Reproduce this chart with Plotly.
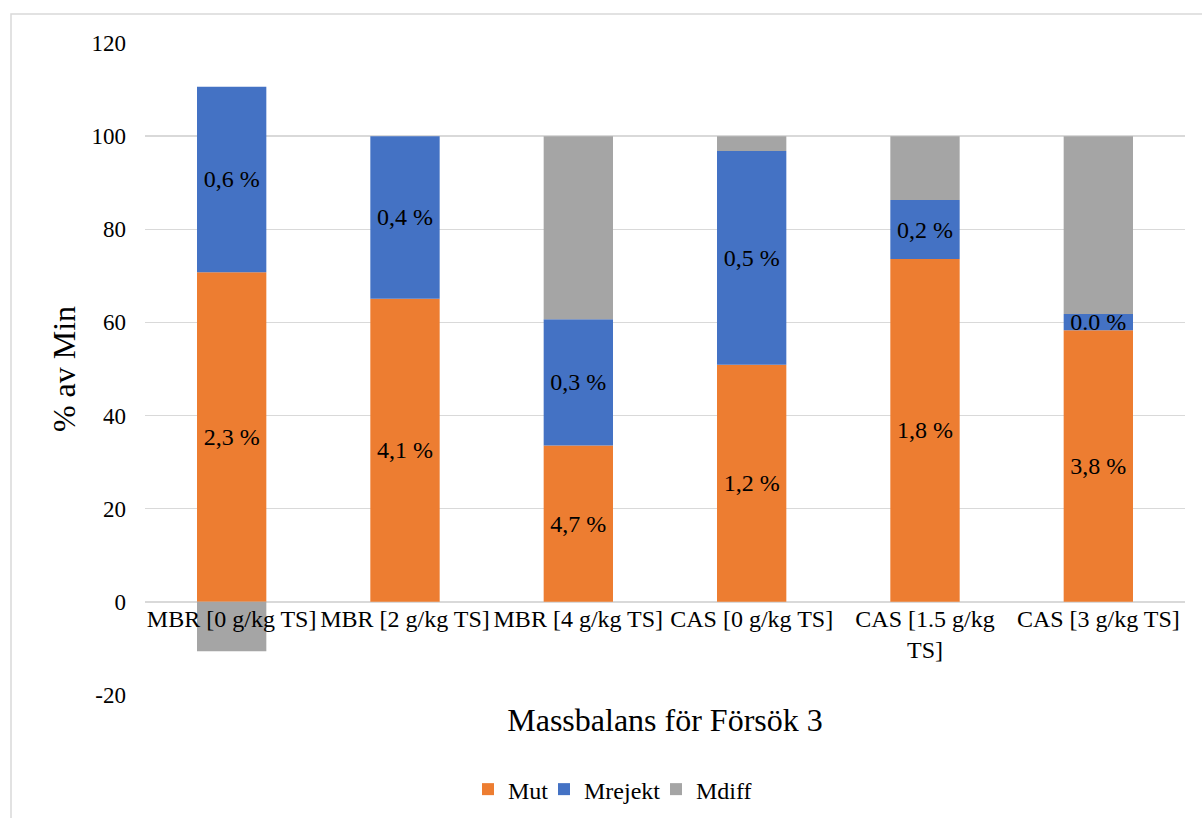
import plotly.graph_objects as go

categories = [
    "MBR [0 g/kg TS]",
    "MBR [2 g/kg TS]",
    "MBR [4 g/kg TS]",
    "CAS [0 g/kg TS]",
    "CAS [1.5 g/kg<br>TS]",
    "CAS [3 g/kg TS]",
]

mut = [70.8, 65.1, 33.6, 50.9, 73.6, 58.3]
mrejekt = [39.8, 34.9, 27.1, 45.9, 12.7, 3.5]
mdiff = [-10.6, 0.0, 39.3, 3.2, 13.7, 38.2]

mut_labels = ["2,3 %", "4,1 %", "4,7 %", "1,2 %", "1,8 %", "3,8 %"]
mrejekt_labels = ["0,6 %", "0,4 %", "0,3 %", "0,5 %", "0,2 %", "0.0 %"]

y_ticks = [-20, 0, 20, 40, 60, 80, 100, 120]
y_tick_text = ["-20", "0", "20", "40", "60", "80", "100", "120"]

FONT = "Liberation Serif"
GRID = "#D9D9D9"


def serif(size):
    return dict(family=FONT, size=size, color="#000000")


fig = go.Figure()

fig.add_trace(go.Bar(
    name="Mut", x=categories, y=mut, marker=dict(color="#ED7D31", line=dict(width=0)),
    text=mut_labels, textposition="inside", insidetextanchor="middle", textangle=0,
    textfont=serif(24), insidetextfont=serif(24), hoverinfo="skip", legendwidth=31,
))
fig.add_trace(go.Bar(
    name="Mrejekt", x=categories, y=mrejekt, marker=dict(color="#4472C4", line=dict(width=0)),
    text=mrejekt_labels, textposition="inside", insidetextanchor="middle", textangle=0,
    textfont=serif(24), insidetextfont=serif(24), hoverinfo="skip", legendwidth=67,
))
fig.add_trace(go.Bar(
    name="Mdiff", x=categories, y=mdiff, marker=dict(color="#A5A5A5", line=dict(width=0)),
    hoverinfo="skip", legendwidth=60,
))

fig.update_layout(
    width=1202, height=818,
    margin=dict(l=145, r=17, t=43, b=122.5, autoexpand=False),
    paper_bgcolor="white", plot_bgcolor="white",
    barmode="relative", bargap=0.6,
    font=serif(24),
    uniformtext=dict(minsize=24, mode="show"),
    showlegend=True,
    legend=dict(
        orientation="h", x=(483 - 15 - 145) / 1040, xanchor="left", y=-0.145, yanchor="middle",
        font=serif(24), traceorder="normal",
        itemclick=False, itemdoubleclick=False,
    ),
    xaxis=dict(
        type="category", anchor="free", position=20 / 140,
        showgrid=False, showline=False, zeroline=False, ticks="",
        tickfont=serif(24),
        title=dict(text="Massbalans för Försök 3", font=serif(32), standoff=46),
    ),
    yaxis=dict(
        range=[-20, 120], tickvals=y_ticks, ticktext=y_tick_text,
        showgrid=True, gridcolor=GRID, gridwidth=1.5,
        zeroline=True, zerolinecolor=GRID, zerolinewidth=1.5, showline=False, ticks="",
        ticklabelstandoff=18,
        tickfont=serif(23),
        title=dict(text="% av Min", font=serif(32), standoff=6),
    ),
    shapes=[dict(
        type="rect", xref="paper", yref="paper",
        x0=(11 - 145) / 1040, x1=1.2, y0=-0.5, y1=(695.5 - 14) / 652.5,
        line=dict(color=GRID, width=1.5), fillcolor="rgba(0,0,0,0)", layer="below",
    )],
)

fig.write_html("out.html", config={"displayModeBar": False, "staticPlot": True})
